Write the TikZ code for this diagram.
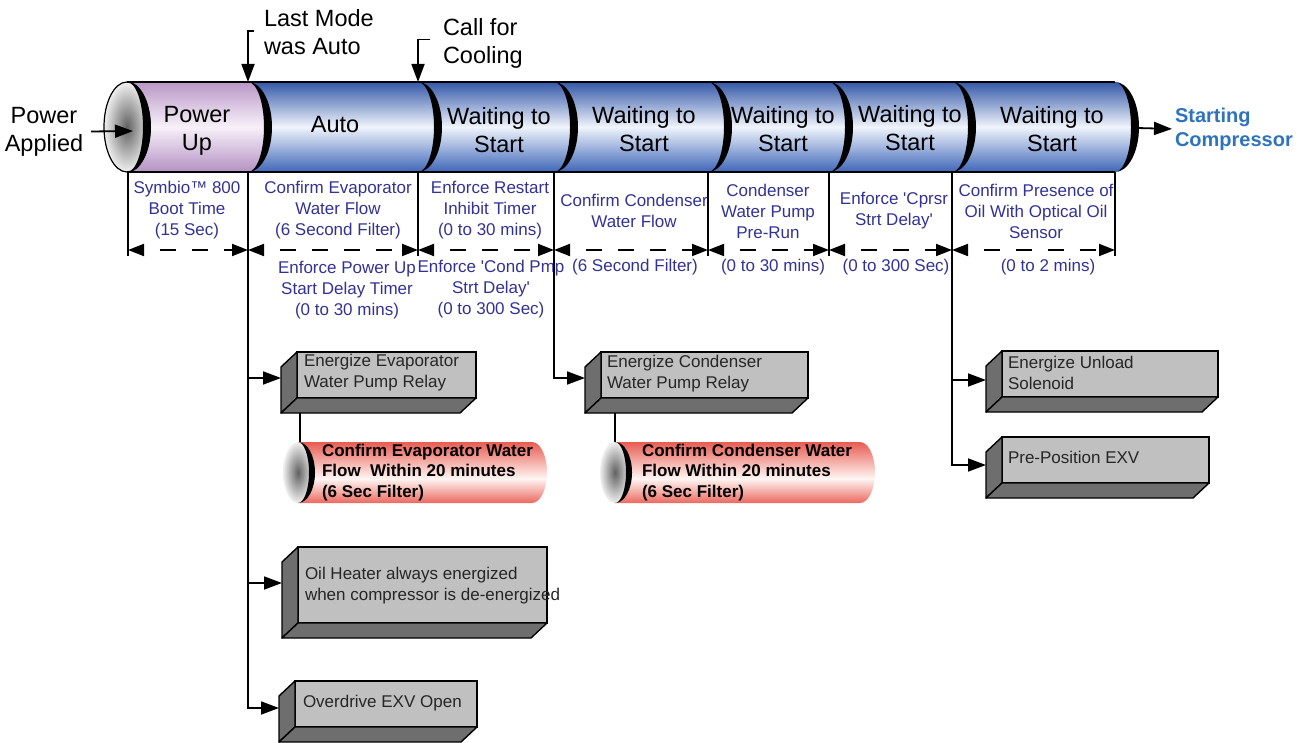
\documentclass[tikz,border=0pt]{standalone}
\usepackage{fontspec}
\setmainfont{Liberation Sans}[Ligatures=TeXOff]
\usetikzlibrary{arrows.meta,calc}
\definecolor{bTop}{RGB}{52,88,168}
\definecolor{bMid}{RGB}{240,244,252}
\definecolor{bBot}{RGB}{62,102,184}
\definecolor{pTop}{RGB}{185,150,198}
\definecolor{pMid}{RGB}{247,241,249}
\definecolor{pBot}{RGB}{180,145,195}
\definecolor{rTop}{RGB}{232,92,82}
\definecolor{rMid}{RGB}{255,246,244}
\definecolor{rBot}{RGB}{235,105,95}
\definecolor{lblue}{RGB}{50,50,150}
\definecolor{sblue}{RGB}{45,115,190}
\definecolor{boxface}{RGB}{192,192,192}
\definecolor{boxside}{RGB}{110,110,110}
\pgfdeclareverticalshading{bluecyl}{100bp}{color(0bp)=(bBot); color(25bp)=(bBot); color(50bp)=(bMid); color(75bp)=(bTop); color(100bp)=(bTop)}
\pgfdeclareverticalshading{purpcyl}{100bp}{color(0bp)=(pBot); color(25bp)=(pBot); color(50bp)=(pMid); color(75bp)=(pTop); color(100bp)=(pTop)}
\pgfdeclareverticalshading{redcyl}{100bp}{color(0bp)=(rBot); color(25bp)=(rBot); color(45bp)=(rMid); color(75bp)=(rTop); color(100bp)=(rTop)}
\begin{document}
\begin{tikzpicture}[x=1pt,y=-1pt,
  every node/.style={inner sep=0pt, outer sep=0pt},
  big/.style={font=\fontsize{23.5}{28}\selectfont, align=center},
  lbl/.style={font=\fontsize{17}{21}\selectfont, text=lblue, align=center},
  btxt/.style={font=\fontsize{17}{21}\selectfont, text=black!85, align=left, anchor=west},
  rtxt/.style={font=\fontsize{17}{20.5}\selectfont\bfseries, align=left, anchor=west},
  gface/.style={draw, line width=1.4pt, fill=boxface, anchor=north west},
  gside/.style={draw, line width=1.4pt, fill=boxside, line join=round},
  arr/.style={-{Triangle[length=18pt,width=13pt]}, line width=1.8pt},
  dimarr/.style={{Triangle[length=16pt,width=12pt]}-{Triangle[length=16pt,width=12pt]}, line width=1.8pt, dash pattern=on 16pt off 16pt, dash phase=16pt},
  vline/.style={line width=1.6pt},
  edgeline/.style={line width=2pt},
  endface/.style={shading=radial, inner color=black!62, outer color=white!94!black},
]
\useasboundingbox (0,0) rectangle (1304,743);

% ---------- main cylinder ----------
\foreach \a/\b/\sh in {127/248/purpcyl,248/418/bluecyl,418/554/bluecyl,554/708/bluecyl,708/829/bluecyl,829/952/bluecyl,952/1115/bluecyl}{
  \shade[shading=\sh] (\a,82) -- (\b,82) arc[start angle=90,end angle=-90,x radius=20pt,y radius=45pt] -- (\a,172) arc[start angle=-90,end angle=90,x radius=20pt,y radius=45pt] -- cycle;
}
\shade[endface] (127,127) ellipse[x radius=23pt,y radius=45pt];
\draw[line width=1.2pt] (127,127) ellipse[x radius=23pt,y radius=45pt];
\draw[edgeline] (127,82) -- (1115,82);
\draw[edgeline] (127,172) -- (1115,172);
\foreach \c in {127,248,418,554,708,829,952,1115}{
  \fill (\c,82) arc[start angle=90,end angle=-90,x radius=24pt,y radius=45pt] arc[start angle=-90,end angle=90,x radius=16pt,y radius=45pt] -- cycle;
}

\coordinate (c1t) at (248,82);
\coordinate (c2t) at (418,82);
\coordinate (endR) at (1137,128);
\coordinate (pin) at (133,131);
\coordinate (d1) at (248,172);
\coordinate (d3) at (554,172);
\coordinate (d6) at (952,172);

\node[big] (pu) at (197,131) {Power\\Up};
\node[big] (auto) at (335,125) {Auto};
\node[big] (w1) at (499,130) {Waiting to\\Start};
\node[big] (w2) at (644,129) {Waiting to\\Start};
\node[big] (w3) at (783,129) {Waiting to\\Start};
\node[big] (w4) at (910,128) {Waiting to\\Start};
\node[big] (w5) at (1052,129) {Waiting to\\Start};

\node[big] (pa) at (44,131.5) {Power\\Applied};
\draw[arr] ([xshift=8pt]pa.east) -- (pin);

\node[big, align=left, anchor=west] (lm) at (264,32) {Last Mode\\was Auto};
\draw[arr] ($(lm.west)+(-10,-1)$) -| (c1t);
\node[big, align=left, anchor=west] (cc) at (443,43.5) {Call for\\Cooling};
\draw[arr] ($(cc.west)+(-13,-4)$) -| (c2t);

\node[font=\fontsize{20}{24}\selectfont\bfseries, text=sblue, align=left, anchor=west] (sc) at (1175,129) {Starting\\Compressor};
\draw[arr, shorten >=3pt] (endR) -- (sc.west);

% ---------- labels ----------
\node[lbl] (l1) at (187,210) {Symbio™ 800\\Boot Time\\(15 Sec)};
\node[lbl] (l2) at (338,210) {Confirm Evaporator\\Water Flow\\(6 Second Filter)};
\node[lbl] (l3) at (490,210) {Enforce Restart\\Inhibit Timer\\(0 to 30 mins)};
\node[lbl] (l4) at (634,211) {Confirm Condenser\\Water Flow};
\node[lbl] (l5) at (768,211) {Condenser\\Water Pump\\Pre-Run};
\node[lbl] (l6) at (894,210.5) {Enforce 'Cprsr\\Strt Delay'};
\node[lbl] (l7) at (1036,211) {Confirm Presence of\\Oil With Optical Oil\\Sensor};
\node[lbl] (l8) at (347,290) {Enforce Power Up\\Start Delay Timer\\(0 to 30 mins)};
\node[lbl] (l9) at (491,289) {Enforce 'Cond Pmp\\Strt Delay'\\(0 to 300 Sec)};
\node[lbl] (l10) at (635,267) {(6 Second Filter)};
\node[lbl] (l11) at (773,267) {(0 to 30 mins)};
\node[lbl] (l12) at (896,267) {(0 to 300 Sec)};
\node[lbl] (l13) at (1048,267) {(0 to 2 mins)};

% ---------- dimension lines ----------
\foreach \c in {128,418,708,829,1115}{
  \draw[vline] (\c,172) -- (\c,256);
}
\foreach \a/\b in {128/248,248/418,418/554,554/708,708/829,829/952,952/1115}{
  \draw[dimarr] (\a,250) -- (\b,250);
}

% ---------- boxes ----------
\node[gface, minimum width=179pt, minimum height=46pt] (B1) at (297,352) {};
\node[gface, minimum width=207pt, minimum height=46pt] (B2) at (601,352) {};
\node[gface, minimum width=249pt, minimum height=76pt] (B3) at (298,547) {};
\node[gface, minimum width=182pt, minimum height=46pt] (B4) at (295,681) {};
\node[gface, minimum width=216pt, minimum height=46pt] (B5) at (1002,351) {};
\node[gface, minimum width=207pt, minimum height=46pt] (B6) at (1002,437) {};
\foreach \b in {B1,B2,B3,B4,B5,B6}{
  \filldraw[gside] (\b.north west) -- ++(-16,15) -- ($(\b.south west)+(-16,15)$) -- (\b.south west) -- cycle;
  \filldraw[gside] (\b.south west) -- (\b.south east) -- ++(-16,15) -- ($(\b.south west)+(-16,15)$) -- cycle;
}
\node[btxt] (t1) at (304,373) {Energize Evaporator\\Water Pump Relay};
\node[btxt] (t2) at (607,374) {Energize Condenser\\Water Pump Relay};
\node[btxt] (t3) at (305,585.5) {Oil Heater always energized\\when compressor is de-energized};
\node[btxt] (t4) at (303,703) {Overdrive EXV Open};
\node[btxt] (t5) at (1008,372.5) {Energize Unload\\Solenoid};
\node[btxt] (t6) at (1008,457) {Pre-Position EXV};

% trunks
\draw[arr] (d1) |- ($(B1.west)+(-16,3)$);
\draw[arr] (d1) |- ($(B3.west)+(-16,-2)$);
\draw[arr] (d1) |- ($(B4.west)+(-16,4)$);
\draw[arr] (d3) |- ($(B2.west)+(-16,3)$);
\draw[arr] (d6) |- ($(B5.west)+(-16,6)$);
\draw[arr] (d6) |- ($(B6.west)+(-16,5)$);

% ---------- red cylinders ----------
\foreach \l/\r in {298/532,615/860}{
  \shade[shading=redcyl] (\l,442) -- (\r,442) arc[start angle=90,end angle=-90,x radius=15pt,y radius=30.5pt] -- (\l,503) arc[start angle=-90,end angle=90,x radius=15pt,y radius=30.5pt] -- cycle;
  \shade[endface] (\l,472.5) ellipse[x radius=15pt,y radius=30.5pt];
  \fill (\l,442) arc[start angle=90,end angle=-90,x radius=17pt,y radius=30.5pt] arc[start angle=-90,end angle=90,x radius=11pt,y radius=30.5pt] -- cycle;
}
\coordinate (L1a) at (300,413);
\coordinate (L1b) at (300,442);
\coordinate (L2a) at (615,413);
\coordinate (L2b) at (615,442);
\draw[line width=1.3pt] (L1a) -- (L1b);
\draw[line width=1.3pt] (L2a) -- (L2b);
\node[rtxt] (r1) at (322,472.5) {Confirm Evaporator Water\\Flow\ \ Within 20 minutes\\(6 Sec Filter)};
\node[rtxt] (r2) at (642,472.5) {Confirm Condenser Water\\Flow Within 20 minutes\\(6 Sec Filter)};

\end{tikzpicture}
\end{document}
